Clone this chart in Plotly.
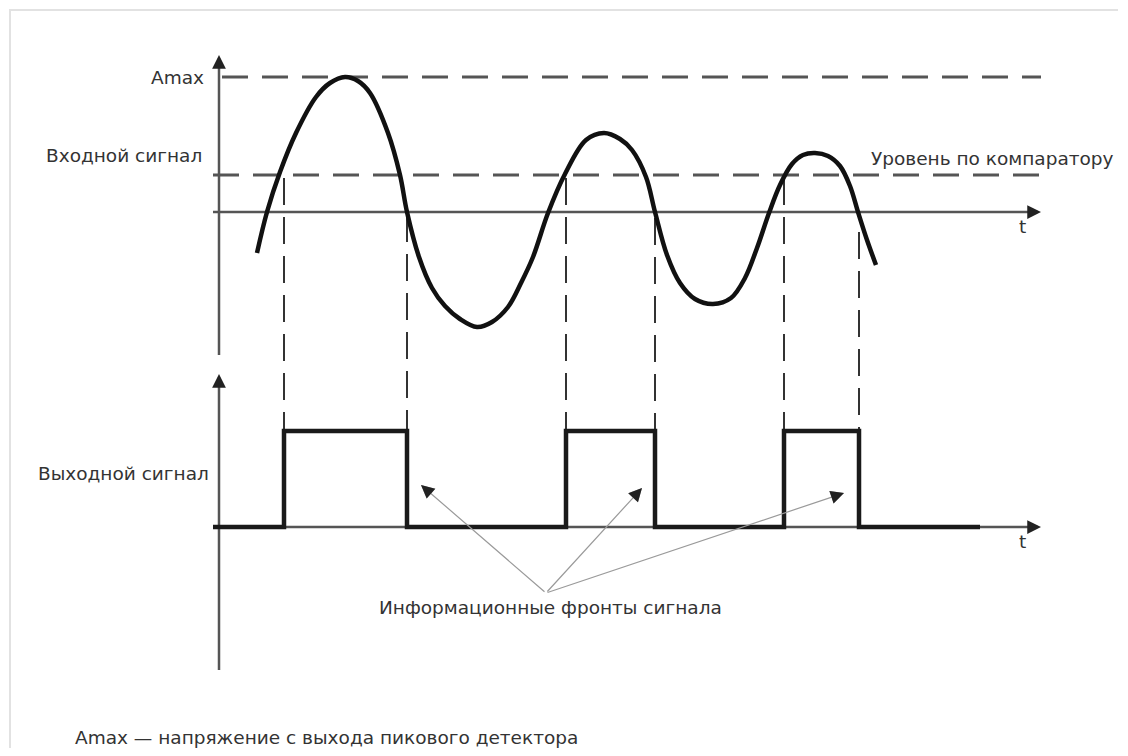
import plotly.graph_objects as go

W, H = 1128, 756
OFF = 8  # page body margin of the browser

# ---- data (picture units: x to the right, y downward) ----
# input signal samples
wave_x = [257, 267, 280, 296, 316, 330, 345, 358, 370, 388, 400, 407,
          419, 432, 445, 460, 477, 492, 508, 521, 533, 548,
          565, 586, 604, 620, 632, 646, 655,
          667, 680, 695, 713, 731, 745, 757, 769,
          780, 792, 803, 815, 828, 840, 850, 858, 867, 876]
wave_y = [253, 212, 172, 133, 97, 83, 77, 81, 93, 133, 175, 212,
          257, 288, 306, 319, 327, 322, 307, 283, 257, 213,
          174, 140, 133, 139, 150, 177, 212,
          255, 283, 299, 304, 298, 278, 248, 213,
          185, 164, 155, 153, 156, 166, 186, 212, 240, 265]

# output pulse edges
pulse_rise = [284, 566, 784]
pulse_fall = [407, 655, 859]
pulse_start, pulse_end = 213, 980
level_low, level_high = 527, 431

# projection (dashed) lines: start level for each edge
proj_x = [284, 407, 566, 655, 784, 859]
proj_top = [178, 215, 178, 218, 178, 232]

# reference levels
amax_y = 77
comp_y = 175
zero_top = 212
axis_x = 219
axis_end_x = 1041
upper_axis = (55, 355)
lower_axis = (374, 670)

# annotation arrows ("information edges")
info_origin = (546, 593)
info_heads_x = [421, 642, 844]
info_heads_y = [485, 488, 493]

labels = {
    "amax": "Amax",
    "inp": "Входной сигнал",
    "comp": "Уровень по компаратору",
    "out": "Выходной сигнал",
    "info": "Информационные фронты сигнала",
    "note": "Amax — напряжение с выхода пикового детектора",
    "t": "t",
}

FONT = "DejaVu Sans"
TXT = "#333333"
AX = "#555555"

fig = go.Figure()

# frame (top and left edges are the visible ones)
fig.add_trace(go.Scatter(x=[10, 10, 1118], y=[748, 10, 10],
                         mode="lines", line=dict(color="#e2e2e2", width=2),
                         hoverinfo="skip"))

# horizontal dashed levels
fig.add_trace(go.Scatter(x=[222, axis_end_x], y=[amax_y, amax_y], mode="lines",
                         line=dict(color=AX, width=3, dash="26px,14px"), hoverinfo="skip"))
fig.add_trace(go.Scatter(x=[213, axis_end_x], y=[comp_y, comp_y], mode="lines",
                         line=dict(color=AX, width=3, dash="26px,14px"), hoverinfo="skip"))

# vertical projection dashed lines
for px, pt in zip(proj_x, proj_top):
    fig.add_trace(go.Scatter(x=[px, px], y=[pt, level_high], mode="lines",
                             line=dict(color="#333333", width=2, dash="27px,12px"),
                             hoverinfo="skip"))

# axes lines
fig.add_trace(go.Scatter(x=[213, axis_end_x - 6], y=[zero_top, zero_top], mode="lines",
                         line=dict(color=AX, width=2.5), hoverinfo="skip"))
fig.add_trace(go.Scatter(x=[213, axis_end_x - 6], y=[level_low, level_low], mode="lines",
                         line=dict(color=AX, width=2.5), hoverinfo="skip"))
fig.add_trace(go.Scatter(x=[axis_x, axis_x], y=[upper_axis[0] + 6, upper_axis[1]], mode="lines",
                         line=dict(color=AX, width=2.5), hoverinfo="skip"))
fig.add_trace(go.Scatter(x=[axis_x, axis_x], y=[lower_axis[0] + 6, lower_axis[1]], mode="lines",
                         line=dict(color=AX, width=2.5), hoverinfo="skip"))

# input wave
fig.add_trace(go.Scatter(x=wave_x, y=wave_y, mode="lines",
                         line=dict(color="#111111", width=4.5, shape="spline", smoothing=1.0),
                         hoverinfo="skip"))

# output pulses
px_list = [pulse_start]
py_list = [level_low]
for r, f in zip(pulse_rise, pulse_fall):
    px_list += [r, r, f, f]
    py_list += [level_low, level_high, level_high, level_low]
px_list.append(pulse_end)
py_list.append(level_low)
fig.add_trace(go.Scatter(x=px_list, y=py_list, mode="lines",
                         line=dict(color="#1a1a1a", width=4.5), hoverinfo="skip"))

annotations = []
# axis arrowheads
for (tx, ty, sx, sy) in [(axis_x, upper_axis[0], axis_x, upper_axis[0] + 14),
                         (axis_x, lower_axis[0], axis_x, lower_axis[0] + 14),
                         (axis_end_x, zero_top, axis_end_x - 14, zero_top),
                         (axis_end_x, level_low, axis_end_x - 14, level_low)]:
    annotations.append(dict(x=tx, y=ty, ax=sx, ay=sy, xref="x", yref="y", axref="x", ayref="y",
                            text="", showarrow=True, arrowhead=2, arrowsize=1.1,
                            arrowwidth=2.5, arrowcolor="#222222"))

# info arrows
for hx, hy in zip(info_heads_x, info_heads_y):
    annotations.append(dict(x=hx, y=hy, ax=info_origin[0], ay=info_origin[1],
                            xref="x", yref="y", axref="x", ayref="y", text="",
                            showarrow=True, arrowhead=2, arrowsize=2.2, arrowwidth=1.2,
                            arrowcolor="#9a9a9a"))
    dx, dy = info_origin[0] - hx, info_origin[1] - hy
    n = (dx * dx + dy * dy) ** 0.5
    annotations.append(dict(x=hx, y=hy, ax=hx + dx / n * 9, ay=hy + dy / n * 9,
                            xref="x", yref="y", axref="x", ayref="y", text="",
                            showarrow=True, arrowhead=2, arrowsize=2.2, arrowwidth=1.2,
                            arrowcolor="#222222"))


def label(txt, x, y, anchor, size=18.5):
    annotations.append(dict(x=x, y=y, xref="x", yref="y", text=txt, showarrow=False,
                            xanchor=anchor, yanchor="middle",
                            font=dict(family=FONT, size=size, color=TXT)))


label(labels["amax"], 206, amax_y, "right")
label(labels["inp"], 204, 155, "right")
label(labels["comp"], 869, 158, "left")
label(labels["out"], 211, 473, "right")
label(labels["info"], 377, 607, "left")
label(labels["note"], 73, 737, "left")
label(labels["t"], 1022, 226, "center")
label(labels["t"], 1022, 541, "center")

# the figure fits inside the page's 8px body margins, so no scrollbars appear
fig.update_layout(
    width=W - 2 * OFF, height=H - 2 * OFF,
    margin=dict(l=0, r=0, t=0, b=0),
    paper_bgcolor="white", plot_bgcolor="white",
    showlegend=False,
    xaxis=dict(range=[OFF, W - OFF], visible=False, fixedrange=True),
    yaxis=dict(range=[H - OFF, OFF], visible=False, fixedrange=True),
    annotations=annotations,
)

fig.write_html("out.html")
